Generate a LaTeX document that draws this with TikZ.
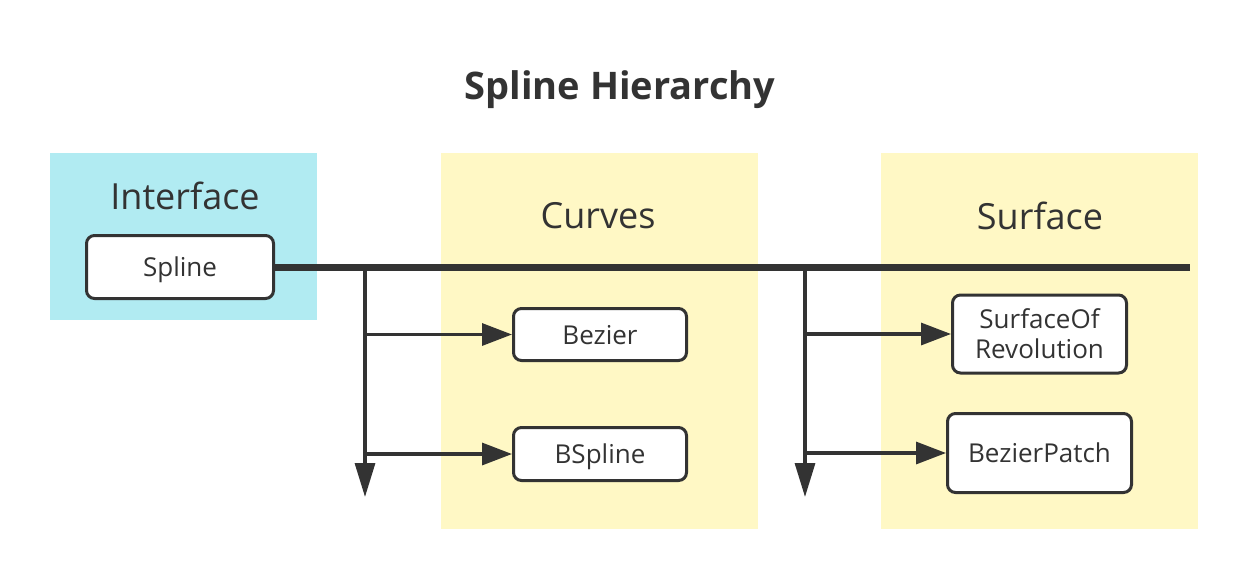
\documentclass[tikz,border=0pt]{standalone}
\usepackage{fontspec}
\setmainfont{Open Sans}
\usetikzlibrary{arrows.meta}
\definecolor{ink}{HTML}{333333}
\definecolor{panelcyan}{HTML}{B1EBF2}
\definecolor{panelyellow}{HTML}{FFF8C5}
\begin{document}
\begin{tikzpicture}[x=1pt,y=-1pt,
  panel/.style={inner sep=0pt, outer sep=0pt},
  classbox/.style={draw=ink, fill=white, line width=3pt, rounded corners=8pt, inner sep=0pt, align=center, font=\fontsize{26}{30}\selectfont, text=ink, text depth=0pt},
  paneltitle/.style={font=\fontsize{36}{42}\selectfont, text=ink},
  bus/.style={draw=ink, line width=7pt},
  link/.style={draw=ink, line width=3.2pt, -{Triangle[length=30pt,width=22pt]}},
  drop/.style={draw=ink, line width=3.2pt, -{Triangle[length=34pt,width=20pt]}}]
\useasboundingbox (0,0) rectangle (1246,579);
\fill[white] (0,0) rectangle (1246,579);
% title
\node[font=\bfseries\fontsize{38}{44}\selectfont, text=ink] (title) at (620,90) {Spline Hierarchy};
% panels
\node[panel, fill=panelcyan, minimum width=267pt, minimum height=167pt] (ifpanel) at (183.5,236.5) {};
\node[panel, fill=panelyellow, minimum width=317pt, minimum height=376pt] (curvepanel) at (599.5,341) {};
\node[panel, fill=panelyellow, minimum width=317pt, minimum height=376pt] (surfpanel) at (1039.5,341) {};
\node[paneltitle] (iflabel) at (185,196) {Interface};
\node[paneltitle] (curvelabel) at (598,216) {Curves};
\node[paneltitle] (surflabel) at (1040,216) {Surface};
% classes
\node[classbox, minimum width=187pt, minimum height=63pt] (spline) at (180,267) {Spline};
\node[classbox, minimum width=173pt, minimum height=52pt] (bezier) at (600,334.5) {Bezier};
\node[classbox, minimum width=173pt, minimum height=53pt] (bspline) at (600,454) {BSpline};
\node[classbox, minimum width=174pt, minimum height=78pt] (surfrev) at (1039.5,334) {SurfaceOf\\Revolution};
\node[classbox, minimum width=184pt, minimum height=79pt] (bpatch) at (1039.5,453) {BezierPatch};
% connectors
\coordinate (busend) at (1190,267);
\coordinate (dropA) at (365,267);
\coordinate (dropAend) at (365,497);
\coordinate (dropB) at (805,267);
\coordinate (dropBend) at (805,497);
\draw[bus] (spline.east) -- (busend);
\draw[drop] (dropA) -- (dropAend);
\draw[drop] (dropB) -- (dropBend);
\draw[link] (dropA |- bezier.west) -- (bezier.west);
\draw[link] (dropA |- bspline.west) -- (bspline.west);
\draw[link] (dropB |- surfrev.west) -- (surfrev.west);
\draw[link] (dropB |- bpatch.west) -- (bpatch.west);
\end{tikzpicture}
\end{document}
